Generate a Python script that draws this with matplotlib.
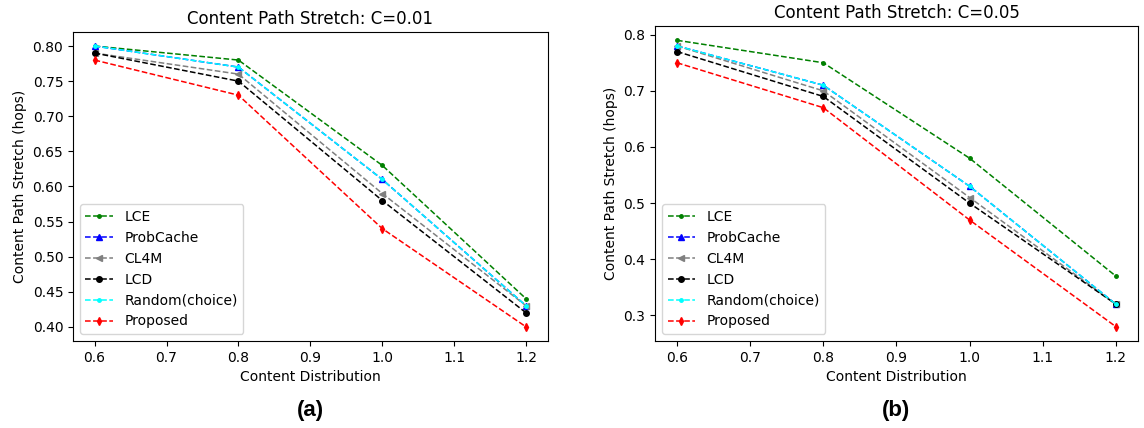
import matplotlib
matplotlib.use('Agg')
import matplotlib.pyplot as plt

dist = [0.6, 0.8, 1.0, 1.2]
names = ['LCE', 'ProbCache', 'CL4M', 'LCD', 'Random(choice)', 'Proposed']
colors = ['green', 'blue', 'gray', 'black', 'cyan', 'red']
markers = ['.', '^', '<', 'o', '.', 'd']

# C = 0.01
lce_a = [0.80, 0.78, 0.63, 0.44]
prob_a = [0.80, 0.77, 0.61, 0.43]
cl4m_a = [0.79, 0.76, 0.59, 0.43]
lcd_a = [0.79, 0.75, 0.58, 0.42]
rand_a = [0.80, 0.77, 0.61, 0.43]
prop_a = [0.78, 0.73, 0.54, 0.40]

# C = 0.05
lce_b = [0.79, 0.75, 0.58, 0.37]
prob_b = [0.78, 0.71, 0.53, 0.32]
cl4m_b = [0.78, 0.70, 0.51, 0.32]
lcd_b = [0.77, 0.69, 0.50, 0.32]
rand_b = [0.78, 0.71, 0.53, 0.32]
prop_b = [0.75, 0.67, 0.47, 0.28]

series_a = [lce_a, prob_a, cl4m_a, lcd_a, rand_a, prop_a]
series_b = [lce_b, prob_b, cl4m_b, lcd_b, rand_b, prop_b]

fig = plt.figure(figsize=(11.44, 4.28), dpi=100)
ax1 = fig.add_axes([0.0638, 0.2033, 0.415, 0.722])
ax2 = fig.add_axes([0.5726, 0.2033, 0.422, 0.736])

for ax, series, title, tag in [(ax1, series_a, 'Content Path Stretch: C=0.01', '(a)'),
                               (ax2, series_b, 'Content Path Stretch: C=0.05', '(b)')]:
    for vals, name, c, m in zip(series, names, colors, markers):
        ms = 4 if m != '.' else 5
        ax.plot(dist, vals, linestyle='--', marker=m, color=c, label=name,
                linewidth=1.1, markersize=ms)
    ax.set_title(title, fontsize=12)
    ax.set_xlabel('Content Distribution')
    ax.set_ylabel('Content Path Stretch (hops)')
    ax.legend(loc='lower left')
    pos = ax.get_position()
    fig.text(pos.x0 + pos.width / 2, 0.042, tag, ha='center', va='center',
             fontsize=16, fontweight='bold', family='Liberation Sans')

fig.savefig('out.png', dpi=100)
